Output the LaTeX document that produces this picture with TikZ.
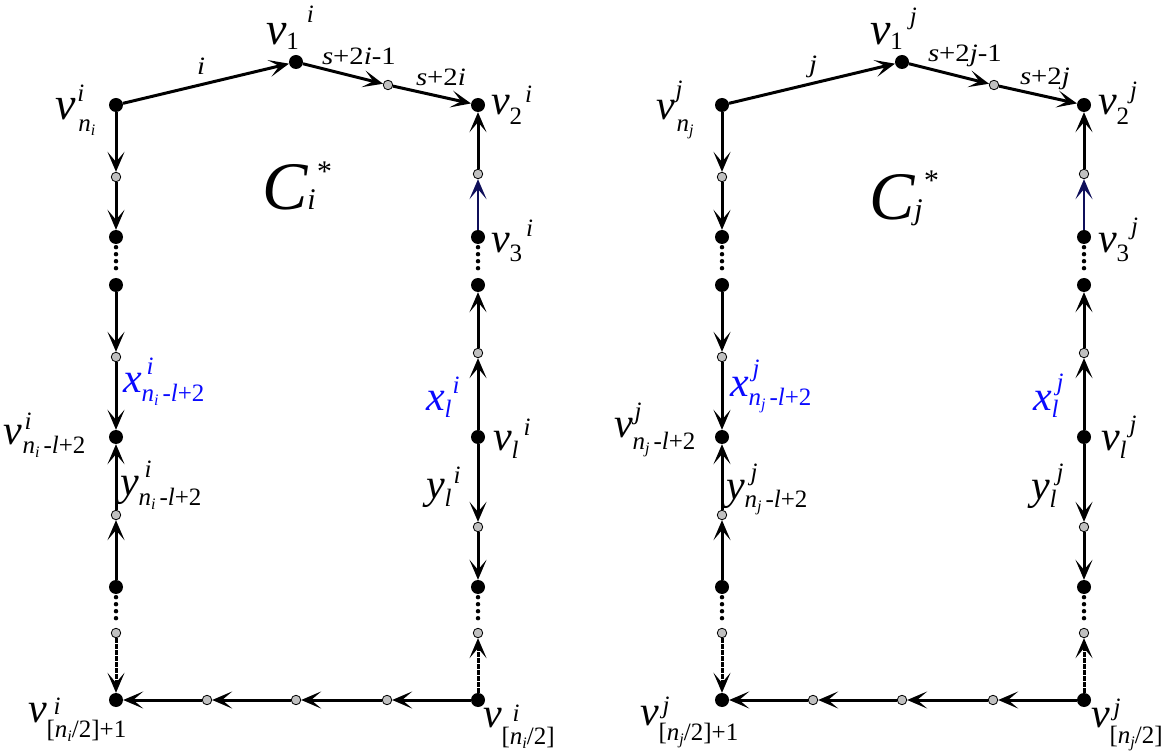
\documentclass[tikz,border=0pt]{standalone}
\usepackage{fontspec}
\usepackage{graphicx}
\setmainfont{Liberation Serif}
\usetikzlibrary{arrows.meta}
\definecolor{gfill}{RGB}{192,192,192}
\definecolor{navyc}{RGB}{15,15,90}
\definecolor{lblue}{RGB}{10,10,255}
\newcommand{\fb}{\fontsize{42}{42}\selectfont\itshape}
\newcommand{\fbb}{\fontsize{46}{46}\selectfont\itshape}
\newcommand{\fs}{\fontsize{25}{25}\selectfont}
\newcommand{\fss}{\fontsize{16}{16}\selectfont}
\newcommand{\Sp}[3]{\rlap{\hspace{#1}\raisebox{#2}{\fs\itshape #3}}}
\newcommand{\Sb}[2]{\raisebox{-#1}{\fs\upshape #2}}
\newcommand{\nsub}[1]{\textit{n}\raisebox{-4pt}{\fss\textit{#1}}}
\newcommand{\EL}[1]{\scalebox{1.15}[1]{\fontsize{25}{25}\selectfont #1}}
\tikzset{
 bk/.style={circle,fill=black,inner sep=0pt,minimum size=14pt},
 gy/.style={circle,fill=gfill,draw=black,line width=0.8pt,inner sep=0pt,minimum size=9.5pt},
 edge/.style={line width=3pt},
 arr/.style={-{Stealth[length=20pt,width=17pt,inset=10pt]}},
 dots/.style={line width=4.5pt,line cap=round,dash pattern=on 0pt off 7pt,shorten >=3pt,shorten <=3pt},
 rough/.style={dash pattern=on 5pt off 1pt},
 navy/.style={draw=navyc,line width=2.6pt},
 lab/.style={anchor=base west,inner sep=0pt,outer sep=0pt},
}
\newcommand{\DrawCycle}[2]{%
\begin{scope}[xshift=#2]
\node[bk] (#1t)  at (296,62) {};
\node[bk] (#1tl) at (116,105) {};
\node[bk] (#1tr) at (478,105) {};
\node[gy] (#1g0) at (388,85) {};
\node[gy] (#1a1) at (116,177) {};
\node[bk] (#1a2) at (116,237) {};
\node[bk] (#1a3) at (116,285) {};
\node[gy] (#1a4) at (116,357) {};
\node[bk] (#1a5) at (116,437) {};
\node[gy] (#1a6) at (116,515) {};
\node[bk] (#1a7) at (116,587) {};
\node[gy] (#1a8) at (116,633) {};
\node[bk] (#1bl) at (116,700) {};
\node[gy] (#1b1) at (478,174) {};
\node[bk] (#1b2) at (478,237) {};
\node[bk] (#1b3) at (478,285) {};
\node[gy] (#1b4) at (478,353) {};
\node[bk] (#1b5) at (478,437) {};
\node[gy] (#1b6) at (478,527) {};
\node[bk] (#1b7) at (478,587) {};
\node[gy] (#1b8) at (478,633) {};
\node[bk] (#1br) at (478,700) {};
\node[gy] (#1c1) at (387,700) {};
\node[gy] (#1c2) at (296,700) {};
\node[gy] (#1c3) at (207,700) {};
\end{scope}
\draw[edge,arr] (#1tl) -- (#1t);
\draw[edge,arr] (#1t) -- (#1g0);
\draw[edge,arr] (#1g0) -- (#1tr);
\draw[edge,arr] (#1tl) -- (#1a1);
\draw[edge,arr] (#1a1) -- (#1a2);
\draw[dots] (#1a2) -- (#1a3);
\draw[edge,arr] (#1a3) -- (#1a4);
\draw[edge,arr] (#1a4) -- (#1a5);
\draw[edge,arr] (#1a6) -- (#1a5);
\draw[edge,arr] (#1a7) -- (#1a6);
\draw[dots] (#1a7) -- (#1a8);
\draw[edge,arr,rough] (#1a8) -- (#1bl);
\draw[edge,arr] (#1b1) -- (#1tr);
\draw[edge,arr,navy] (#1b2) -- (#1b1);
\draw[dots] (#1b2) -- (#1b3);
\draw[edge,arr] (#1b4) -- (#1b3);
\draw[edge,arr] (#1b5) -- (#1b4);
\draw[edge,arr] (#1b5) -- (#1b6);
\draw[edge,arr] (#1b6) -- (#1b7);
\draw[dots] (#1b7) -- (#1b8);
\draw[edge,arr,rough] (#1br) -- (#1b8);
\draw[edge,arr] (#1br) -- (#1c1);
\draw[edge,arr] (#1c1) -- (#1c2);
\draw[edge,arr] (#1c2) -- (#1c3);
\draw[edge,arr] (#1c3) -- (#1bl);
}
\begin{document}
\begin{tikzpicture}[x=1pt,y=-1pt]
\useasboundingbox (0,0) rectangle (1171,751);
\DrawCycle{L}{0}
\DrawCycle{R}{606}
% ---- labels, left cycle
\node[lab] (Lv1) at (266,45) {\fbb v\Sb{5pt}{1}\Sp{8pt}{22pt}{i}};
\node[lab] (Lvn) at (56,120) {\fbb v\Sp{1pt}{18pt}{i}\hspace{2pt}\Sb{12pt}{\nsub{i}}};
\node[lab] (Lv2) at (491,115) {\fb v\Sb{10pt}{2}\Sp{3pt}{12pt}{i}};
\node[lab] (Lv3) at (491,253) {\fb v\Sb{9pt}{3}\Sp{4pt}{16pt}{i}};
\node[lab] (Lvl) at (493,450) {\fb v\Sb{8pt}{\textit{l}}\Sp{5pt}{15pt}{i}};
\node[lab,text=lblue] (Lxl) at (426,410) {\fb x\Sb{7pt}{\textit{l}}\Sp{1pt}{17pt}{i}};
\node[lab] (Lyl) at (426,498) {\fb y\Sb{8pt}{\textit{l}}\Sp{2pt}{15pt}{i}};
\node[lab,text=lblue] (Lxn) at (123,393) {\fb x\Sp{5pt}{18pt}{i}\Sb{9pt}{\nsub{i}\hspace{4pt}-\textit{l}+2}};
\node[lab] (Lvm) at (4,445) {\fb v\Sp{2pt}{15pt}{i}\Sb{9pt}{\nsub{i}\hspace{4pt}-\textit{l}+2}};
\node[lab] (Lyn) at (120,495) {\fb y\Sp{6pt}{18pt}{i}\Sb{10pt}{\nsub{i}\hspace{4pt}-\textit{l}+2}};
\node[lab] (Lbl) at (28,722) {\fb v\Sp{7pt}{8pt}{i}\Sb{15pt}{[\nsub{i}/2]+1}};
\node[lab] (Lbr) at (483,727) {\fb v\Sp{11pt}{6pt}{i}\Sb{17pt}{[\nsub{i}/2]}};
\node[lab] (LC) at (262,210) {\fontsize{68}{68}\selectfont\itshape C\fontsize{30}{30}\selectfont i\raisebox{28pt}{*}};
\node[lab] (Le1) at (197,75) {\EL{\textit{i}}};
\node[lab] (Le2) at (322,65) {\EL{\textit{s}+2\textit{i}-1}};
\node[lab] (Le3) at (416,86) {\EL{\textit{s}+2\textit{i}}};
% ---- labels, right cycle
\node[lab] (Rv1) at (870,45) {\fbb v\Sb{5pt}{1}\Sp{7pt}{20pt}{j}};
\node[lab] (Rvn) at (656,120) {\fb v\Sp{1pt}{22pt}{j}\hspace{2pt}\Sb{12pt}{\nsub{j}}};
\node[lab] (Rv2) at (1098,115) {\fb v\Sb{10pt}{2}\Sp{1pt}{16pt}{j}};
\node[lab] (Rv3) at (1098,253) {\fb v\Sb{9pt}{3}\Sp{2pt}{18pt}{j}};
\node[lab] (Rvl) at (1101,450) {\fb v\Sb{8pt}{\textit{l}}\Sp{3pt}{18pt}{j}};
\node[lab,text=lblue] (Rxl) at (1033,410) {\fb x\Sb{7pt}{\textit{l}}\Sp{-2pt}{20pt}{j}};
\node[lab] (Ryl) at (1031,500) {\fb y\Sb{8pt}{\textit{l}}\Sp{0pt}{20pt}{j}};
\node[lab,text=lblue] (Rxn) at (730,397) {\fb x\Sp{4pt}{20pt}{j}\Sb{9pt}{\nsub{j}\hspace{4pt}-\textit{l}+2}};
\node[lab] (Rvm) at (614,438) {\fb v\Sp{2pt}{18pt}{j}\Sb{12pt}{\nsub{j}\hspace{4pt}-\textit{l}+2}};
\node[lab] (Ryn) at (726,500) {\fb y\Sp{6pt}{20pt}{j}\Sb{8pt}{\nsub{j}\hspace{4pt}-\textit{l}+2}};
\node[lab] (Rbl) at (640,725) {\fb v\Sp{4pt}{12pt}{j}\Sb{15pt}{[\nsub{j}/2]+1}};
\node[lab] (Rbr) at (1091,727) {\fb v\Sp{4pt}{12pt}{j}\Sb{16pt}{[\nsub{j}/2]}};
\node[lab] (RC) at (869,220) {\fontsize{68}{68}\selectfont\itshape C\fontsize{30}{30}\selectfont j\raisebox{29pt}{*}};
\node[lab] (Re1) at (809,73) {\EL{\textit{j}}};
\node[lab] (Re2) at (928,62) {\EL{\textit{s}+2\textit{j}-1}};
\node[lab] (Re3) at (1020,85) {\EL{\textit{s}+2\textit{j}}};
\end{tikzpicture}
\end{document}
